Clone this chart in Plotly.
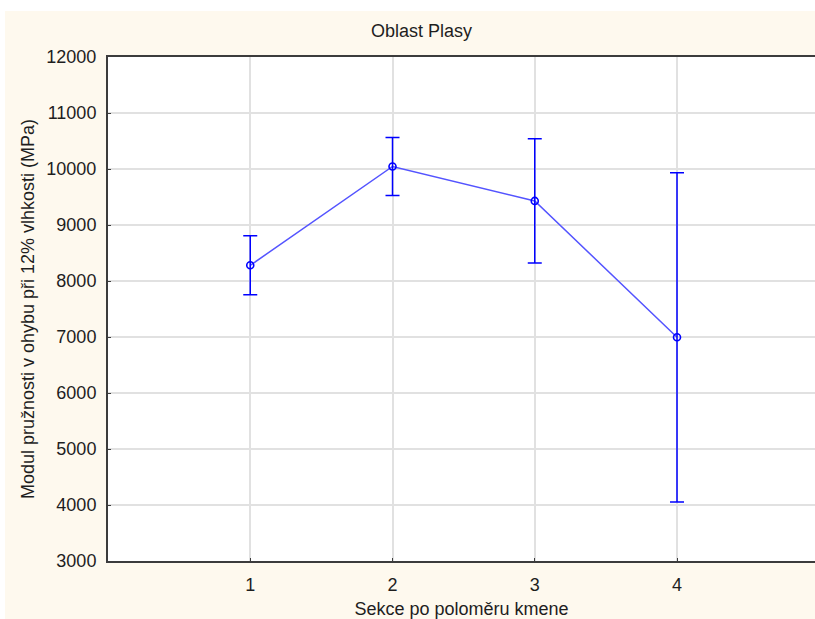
import plotly.graph_objects as go

# Mean modulus of elasticity per stem-radius section, with confidence half-widths
sections = [1, 2, 3, 4]
modulus_mean = [8280, 10045, 9430, 6995]
modulus_err = [527, 518, 1110, 2940]

y_ticks = [3000, 4000, 5000, 6000, 7000, 8000, 9000, 10000, 11000, 12000]
x_ticks = [1, 2, 3, 4]

title_text = "Oblast Plasy"
x_title = "Sekce po poloměru kmene"
y_title = "Modul pružnosti v ohybu při 12% vlhkosti (MPa)"

font_family = "Liberation Sans, Arial, sans-serif"
axis_color = "#3c3c3c"
grid_color = "#e1e1e1"
panel_color = "#fef9ee"

fig = go.Figure()

fig.add_trace(go.Scatter(
    x=sections,
    y=modulus_mean,
    mode="lines",
    line=dict(color="#5454ff", width=1.5),
    hoverinfo="skip",
    showlegend=False,
))

fig.add_trace(go.Scatter(
    x=sections,
    y=modulus_mean,
    mode="markers",
    marker=dict(symbol="circle-open", size=7, color="#0000ff",
                line=dict(color="#0000ff", width=1.6)),
    error_y=dict(type="data", array=modulus_err, symmetric=True,
                 color="#0000ff", thickness=1.5, width=7),
    showlegend=False,
))

fig.update_layout(
    width=815,
    height=619,
    margin=dict(l=108, r=0, t=57, b=58),
    paper_bgcolor=panel_color,
    plot_bgcolor="white",
    font=dict(family=font_family, size=18, color="#1e1e1e"),
    xaxis=dict(
        range=[0, 4.97],
        tickvals=x_ticks,
        ticktext=[str(v) for v in x_ticks],
        showgrid=True,
        gridcolor=grid_color,
        gridwidth=1.5,
        zeroline=False,
        showline=True,
        linecolor=axis_color,
        linewidth=2,
        mirror=True,
        ticks="inside",
        ticklen=3,
        tickcolor=axis_color,
        ticklabelstandoff=6,
        title=dict(text=x_title, standoff=10, font=dict(size=18)),
    ),
    yaxis=dict(
        range=[3000, 12000],
        tickvals=y_ticks,
        ticktext=[str(v) for v in y_ticks],
        showgrid=True,
        gridcolor=grid_color,
        gridwidth=1.5,
        zeroline=False,
        showline=True,
        linecolor=axis_color,
        linewidth=2,
        ticks="inside",
        ticklen=3,
        tickcolor=axis_color,
        ticklabelstandoff=6,
        title=dict(text=y_title, standoff=7, font=dict(size=18)),
    ),
    annotations=[
        dict(text=title_text, xref="paper", yref="paper",
             x=(421 - 108) / 707, y=(561 - 31) / 504,
             xanchor="center", yanchor="middle", showarrow=False,
             font=dict(size=18)),
    ],
    shapes=[
        # white strips along the top and left edges of the page
        dict(type="rect", xref="paper", yref="paper",
             x0=-108 / 707, x1=1.01, y0=(561 - 11) / 504, y1=(561 + 1) / 504 + 1,
             fillcolor="white", line=dict(width=0), layer="above"),
        dict(type="rect", xref="paper", yref="paper",
             x0=-120 / 707, x1=-103 / 707, y0=-1, y1=2,
             fillcolor="white", line=dict(width=0), layer="above"),
    ],
)

fig.write_html("out.html")
